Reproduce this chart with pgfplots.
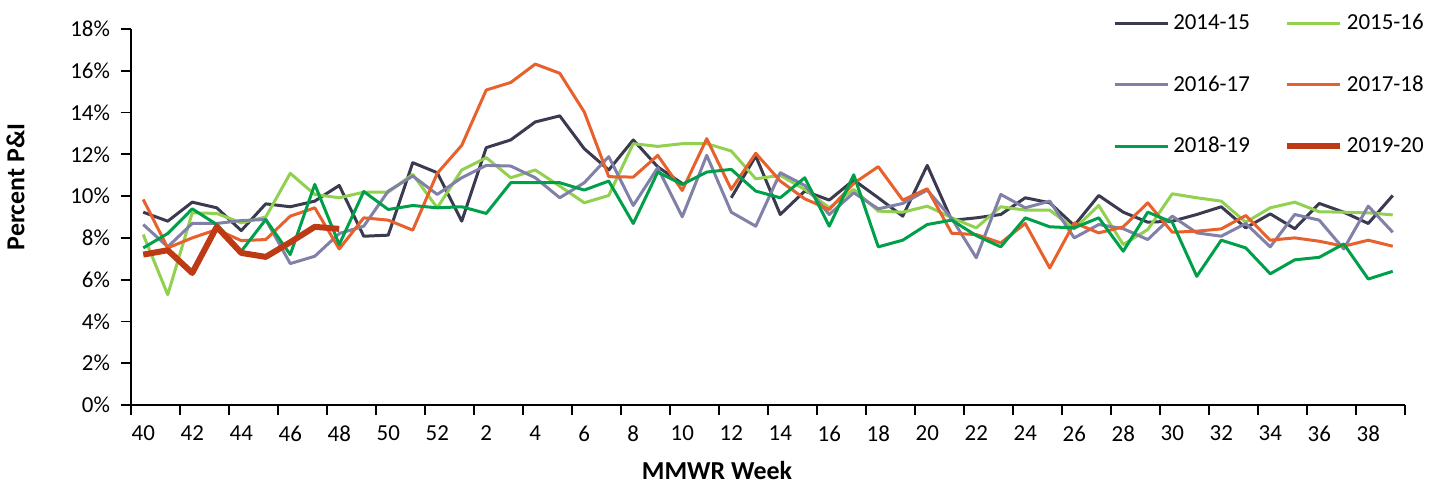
\documentclass[border=0pt]{standalone}
\usepackage{pgfplots}
\pgfplotsset{compat=1.18}
\usepackage{pgfplotstable}
\usepackage{fontspec}
\setmainfont{Carlito}

\definecolor{c1415}{HTML}{3A3A50}
\definecolor{c1516}{HTML}{92D050}
\definecolor{c1617}{HTML}{8080A8}
\definecolor{c1718}{HTML}{E8612C}
\definecolor{c1819}{HTML}{00A04A}
\definecolor{c1920}{HTML}{BE3A14}

% index 0 = week 40, 12 = week 52, 13 = week 1, 51 = week 39
\pgfplotstableread{
i  a     b     c     d     e     f
0  9.23  8.16  8.64  9.84  7.52  7.20
1  8.80  5.28  7.57  7.52  8.21  7.41
2  9.71  9.20  8.69  8.00  9.39  6.32
3  9.44  9.17  8.69  8.40  8.64  8.53
4  8.35  8.72  8.83  7.87  7.36  7.28
5  9.63  9.00  8.88  7.92  8.88  7.09
6  9.49  11.09 6.77  9.04  7.20  7.79
7  9.76  10.08 7.12  9.44  10.56 8.53
8  10.51 9.92  8.21  7.47  7.68  8.43
9  8.08  10.19 8.56  8.96  10.22 nan
10 8.13  10.19 10.24 8.85  9.36  nan
11 11.60 11.04 10.96 8.37  9.55  nan
12 11.12 9.44  10.08 11.09 9.44  nan
13 8.80  11.25 10.88 12.43 9.49  nan
14 12.32 11.84 11.47 15.08 9.17  nan
15 12.69 10.88 11.44 15.44 10.64 nan
16 13.55 11.25 10.88 16.32 10.64 nan
17 13.84 10.48 9.92  15.88 10.64 nan
18 12.27 9.68  10.64 14.03 10.29 nan
19 11.25 10.03 11.89 10.93 10.72 nan
20 12.69 12.51 9.55  10.91 8.69  nan
21 11.40 12.38 11.36 11.95 11.15 nan
22 10.60 12.51 9.01  10.27 10.56 nan
23 nan   12.51 11.95 12.75 11.15 nan
24 9.92  12.16 9.23  10.32 11.28 nan
25 11.92 10.83 8.56  12.05 10.24 nan
26 9.12  10.99 11.12 10.72 9.92  nan
27 10.24 10.32 10.51 9.87  10.88 nan
28 9.81  9.44  9.12  9.36  8.56  nan
29 10.77 10.32 10.16 10.61 11.02 nan
30 9.92  9.28  9.39  11.41 7.57  nan
31 9.04  9.23  9.65  9.81  7.89  nan
32 11.47 9.52  10.29 10.35 8.64  nan
33 8.84  8.96  8.93  8.22  8.85  nan
34 8.96  8.48  7.05  8.16  8.11  nan
35 9.12  9.49  10.08 7.76  7.57  nan
36 9.92  9.33  9.44  8.69  8.96  nan
37 9.68  9.33  9.76  6.56  8.53  nan
38 8.59  8.44  8.00  8.72  8.48  nan
39 10.03 9.55  8.64  8.24  8.96  nan
40 9.23  7.68  8.44  8.53  7.36  nan
41 8.75  8.40  7.92  9.68  9.23  nan
42 8.80  10.11 9.04  8.27  8.75  nan
43 9.12  9.92  8.24  8.32  6.16  nan
44 9.49  9.76  8.08  8.43  7.89  nan
45 8.48  8.75  8.69  9.07  7.52  nan
46 9.15  9.44  7.57  7.89  6.28  nan
47 8.44  9.71  9.12  8.00  6.95  nan
48 9.65  9.25  8.85  7.84  7.07  nan
49 9.23  9.23  7.47  7.60  7.71  nan
50 8.69  9.20  9.52  7.89  6.03  nan
51 10.03 9.10  8.27  7.60  6.40  nan
}\pidata

\begin{document}
\begin{tikzpicture}
\path[use as bounding box] (0,0) rectangle (717bp,243bp);
\begin{axis}[
  at={(65.5bp,40.5bp)}, anchor=south west,
  scale only axis,
  width=637bp, height=188bp,
  xmin=-0.5, xmax=51.5,
  ymin=0, ymax=18,
  axis lines=left,
  axis line style={-, line width=0.9bp},
  tick align=outside,
  major tick length=5bp,
  minor tick length=5bp,
  tick style={line width=0.9bp, black},
  xtick={0,2,...,50},
  xticklabels={40,42,44,46,48,50,52,2,4,6,8,10,12,14,16,18,20,22,24,26,28,30,32,34,36,38},
  major x tick style={draw=none},
  minor xtick={-0.5,1.5,...,51.5},
  ytick={0,2,...,18},
  yticklabel={\pgfmathprintnumber{\tick}\%},
  /pgf/number format/assume math mode=true,
  ticklabel style={font=\fontsize{11.5}{13}\selectfont},
  xticklabel style={yshift=-2bp},
  yticklabel style={xshift=-2bp},
  xlabel={\textbf{MMWR Week}},
  ylabel={\textbf{Percent P\&I}},
  label style={font=\fontsize{13}{15}\selectfont},
  xlabel style={xshift=-25.5bp, yshift=-3bp},
  ylabel style={xshift=15bp, yshift=16bp},
  unbounded coords=jump,
  every axis plot/.append style={line width=1.5bp, line join=round},
  legend columns=2,
  legend style={draw=none, fill=none, at={(0.766,1.062)}, anchor=north west,
    font=\fontsize{11.5}{13}\selectfont,
    /tikz/every even column/.append style={column sep=15bp},
    row sep=17.5bp},
  legend cell align=left,
  legend image code/.code={\draw[#1] (0bp,0bp) -- (26.5bp,0bp);},
]
\addplot[c1415] table[x=i,y=a] {\pidata};
\addplot[c1516] table[x=i,y=b] {\pidata};
\addplot[c1617] table[x=i,y=c] {\pidata};
\addplot[c1718] table[x=i,y=d] {\pidata};
\addplot[c1819] table[x=i,y=e] {\pidata};
\addplot[c1920, line width=3bp] table[x=i,y=f] {\pidata};
\legend{2014-15,2015-16,2016-17,2017-18,2018-19,2019-20}
\end{axis}
\end{tikzpicture}
\end{document}
